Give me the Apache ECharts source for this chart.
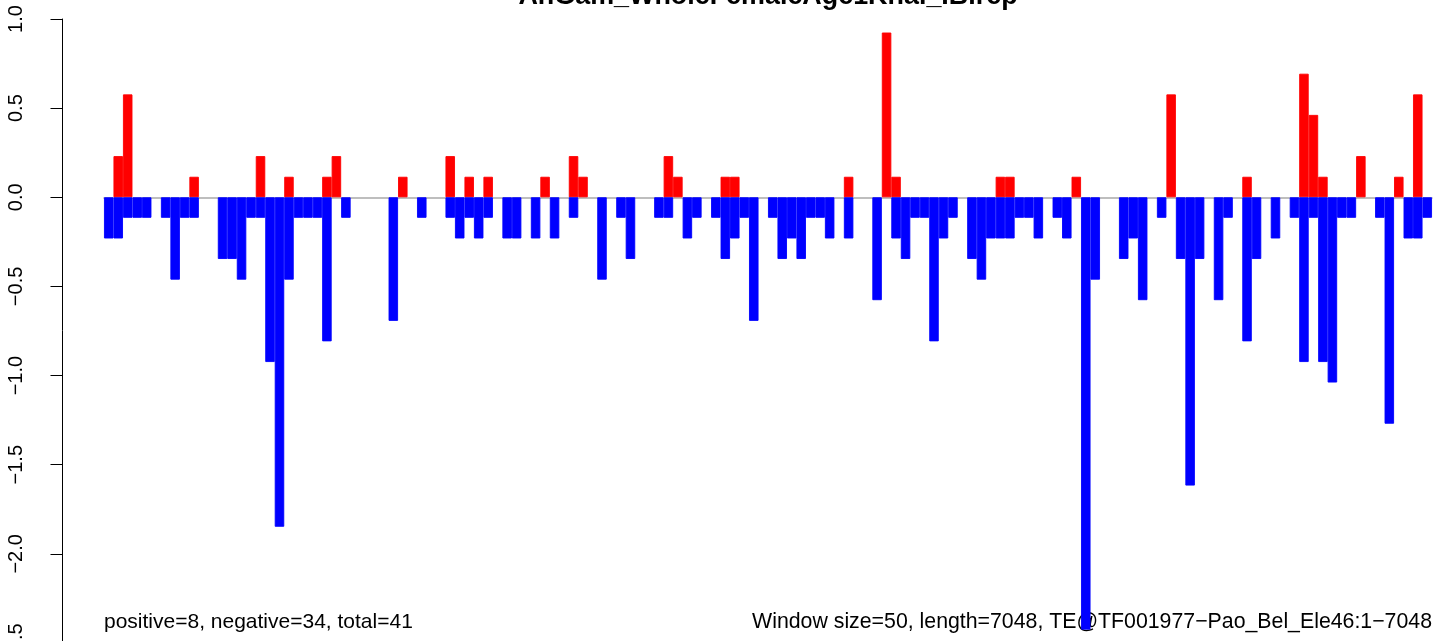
<!DOCTYPE html>
<html>
<head>
<meta charset="utf-8">
<script src="https://cdn.jsdelivr.net/npm/echarts@6/dist/echarts.min.js"></script>
<style>html,body{margin:0;padding:0;background:#fff}#c{width:1449px;height:641px}</style>
</head>
<body>
<div id="c"></div>
<script>
// ---- data ----
var titleText = 'AnGam_WholeFemaleAge1Khai_IB.rep';
var leftNote = 'positive=8, negative=34, total=41';
var rightNote = 'Window size=50, length=7048, TE@TF001977\u2212Pao_Bel_Ele46:1\u22127048';
var yTicks = [-2.5, -2.0, -1.5, -1.0, -0.5, 0.0, 0.5, 1.0];
var windowStarts = [];
for (var k = 0; k < 140; k++) windowStarts.push(String(1 + k * 50));

var positive = [
 0,0.231,0.577,0,0,0,0,0,0,0.115,
 0,0,0,0,0,0,0.231,0,0,0.115,
 0,0,0,0.115,0.231,0,0,0,0,0,
 0,0.115,0,0,0,0,0.231,0,0.115,0,
 0.115,0,0,0,0,0,0.115,0,0,0.231,
 0.115,0,0,0,0,0,0,0,0,0.231,
 0.115,0,0,0,0,0.115,0.115,0,0,0,
 0,0,0,0,0,0,0,0,0.115,0,
 0,0,0.924,0.115,0,0,0,0,0,0,
 0,0,0,0,0.115,0.115,0,0,0,0,
 0,0,0.115,0,0,0,0,0,0,0,
 0,0,0.577,0,0,0,0,0,0,0,
 0.115,0,0,0,0,0,0.693,0.462,0.115,0,
 0,0,0.231,0,0,0,0.115,0,0.577,0
];
var negative = [
 -0.231,-0.231,-0.115,-0.115,-0.115,0,-0.115,-0.462,-0.115,-0.115,
 0,0,-0.346,-0.346,-0.462,-0.115,-0.115,-0.924,-1.848,-0.462,
 -0.115,-0.115,-0.115,-0.808,0,-0.115,0,0,0,0,
 -0.693,0,0,-0.115,0,0,-0.115,-0.231,-0.115,-0.231,
 -0.115,0,-0.231,-0.231,0,-0.231,0,-0.231,0,-0.115,
 0,0,-0.462,0,-0.115,-0.346,0,0,-0.115,-0.115,
 0,-0.231,-0.115,0,-0.115,-0.346,-0.231,-0.115,-0.693,0,
 -0.115,-0.346,-0.231,-0.346,-0.115,-0.115,-0.231,0,-0.231,0,
 0,-0.577,0,-0.231,-0.346,-0.115,-0.115,-0.808,-0.231,-0.115,
 0,-0.346,-0.462,-0.231,-0.231,-0.231,-0.115,-0.115,-0.231,0,
 -0.115,-0.231,0,-2.425,-0.462,0,0,-0.346,-0.231,-0.577,
 0,-0.115,0,-0.346,-1.617,-0.346,0,-0.577,-0.115,0,
 -0.808,-0.346,0,-0.231,0,-0.115,-0.924,-0.115,-0.924,-1.039,
 -0.115,-0.115,0,0,-0.115,-1.270,0,-0.231,-0.231,-0.115
];

// empty windows draw nothing
function nonZero(arr) { return arr.map(function (v) { return v === 0 ? null : v; }); }

// ---- chart ----
var FONT = '"Liberation Sans", Arial, sans-serif';
var chart = echarts.init(document.getElementById('c'), null, {renderer: 'canvas'});
chart.setOption({
  animation: false,
  backgroundColor: '#ffffff',
  grid: {left: 104, right: 17, top: 19, height: 624, containLabel: false, outerBoundsMode: 'none'},
  xAxis: {
    type: 'category',
    data: windowStarts,
    boundaryGap: true,
    axisLine: {show: true, onZero: true, lineStyle: {color: '#a9a9a9', width: 1.5}},
    axisTick: {show: false},
    axisLabel: {show: false},
    splitLine: {show: false}
  },
  yAxis: {
    type: 'value',
    min: yTicks[0],
    max: yTicks[yTicks.length - 1],
    interval: 0.5,
    offset: 41.5,
    axisLine: {show: true, lineStyle: {color: '#000', width: 1}},
    axisTick: {show: true, length: 12, lineStyle: {color: '#000', width: 1}},
    splitLine: {show: false},
    axisLabel: {
      rotate: 90,
      margin: 36,
      fontFamily: FONT,
      fontSize: 20,
      color: '#000',
      hideOverlap: false,
      showMinLabel: true,
      showMaxLabel: true,
      formatter: function (v) { return v.toFixed(1).replace('-', '\u2212'); }
    }
  },
  series: [
    {type: 'bar', name: 'positive', data: nonZero(positive), barGap: '-100%', barCategoryGap: '0%',
     itemStyle: {color: '#ff0000', borderColor: '#ff0000', borderWidth: 0.9}, z: 3},
    {type: 'bar', name: 'negative', data: nonZero(negative), barGap: '-100%', barCategoryGap: '0%',
     itemStyle: {color: '#0000ff', borderColor: '#0000ff', borderWidth: 0.9}, z: 3}
  ],
  graphic: [
    {type: 'text', x: 768, y: -3, style: {text: titleText, font: 'bold 26.9px ' + FONT, fill: '#000', align: 'center', verticalAlign: 'middle'}},
    {type: 'text', x: 104, y: 622, style: {text: leftNote, font: '21px ' + FONT, fill: '#000', align: 'left', verticalAlign: 'middle'}},
    {type: 'text', x: 1432, y: 622, style: {text: rightNote, font: '21.3px ' + FONT, fill: '#000', align: 'right', verticalAlign: 'middle'}}
  ]
});
</script>
</body>
</html>
